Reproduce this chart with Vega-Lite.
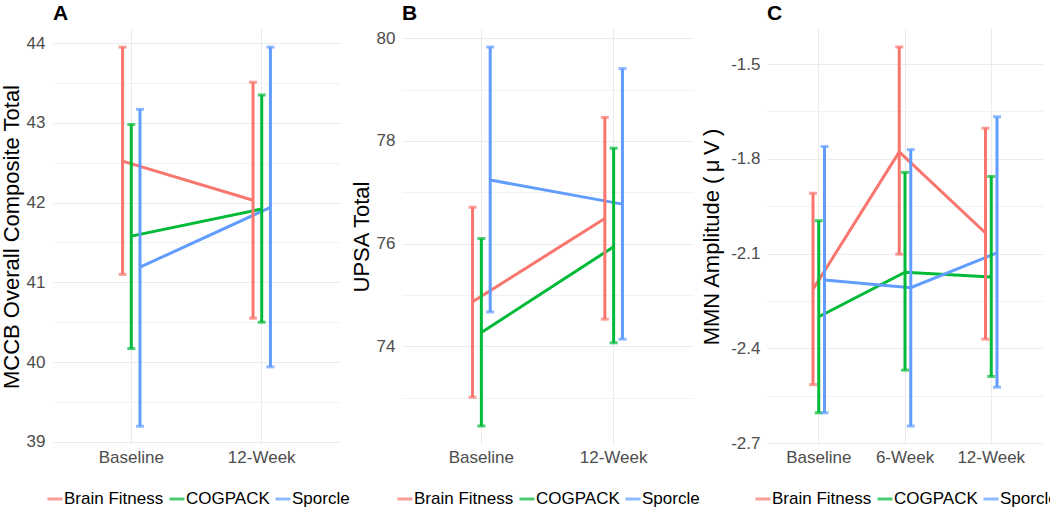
{
  "$schema": "https://vega.github.io/schema/vega-lite/v6.json",
  "padding": {"left": 0, "top": 3, "right": 0, "bottom": 0},
  "background": "white",
  "config": {
    "font": "Liberation Sans",
    "view": {"stroke": null},
    "axis": {"domain": false, "ticks": false, "tickSize": 0, "labelFontSize": 17, "labelColor": "#4D4D4D", "titleColor": "#000000", "titleFontWeight": "normal", "titleFontSize": 22, "gridColor": "#EBEBEB", "gridWidth": 1},
    "title": {"fontSize": 21, "fontWeight": "bold", "anchor": "start", "frame": "group", "offset": 4, "color": "#000000"},
    "legend": {"orient": "none", "direction": "horizontal", "columns": 3, "title": null, "symbolType": "stroke", "symbolStrokeWidth": 3, "symbolSize": 225, "labelFontSize": 17, "labelColor": "#000000", "columnPadding": -1, "labelOffset": 0, "legendY": 462}
  },
  "spacing": 0,
  "resolve": {"scale": {"x": "independent", "y": "independent", "color": "independent", "xOffset": "independent"}, "legend": {"color": "independent"}},
  "hconcat": [
    {
      "width": 287,
      "height": 417,
      "title": {"text": "A"},
      "data": {"values": [
        {"time": "Baseline", "group": "Brain Fitness", "mean": 42.52, "lo": 41.10, "hi": 43.95},
        {"time": "Baseline", "group": "COGPACK", "mean": 41.58, "lo": 40.17, "hi": 42.98},
        {"time": "Baseline", "group": "Sporcle", "mean": 41.19, "lo": 39.195, "hi": 43.17},
        {"time": "12-Week", "group": "Brain Fitness", "mean": 42.03, "lo": 40.55, "hi": 43.51},
        {"time": "12-Week", "group": "COGPACK", "mean": 41.92, "lo": 40.50, "hi": 43.35},
        {"time": "12-Week", "group": "Sporcle", "mean": 41.94, "lo": 39.94, "hi": 43.95}
      ]},
      "encoding": {
        "x": {"field": "time", "type": "nominal", "sort": ["Baseline", "12-Week"], "scale": {"type": "band", "paddingInner": 0.8, "paddingOuter": 0.5}, "axis": {"title": null, "labelAngle": 0, "bandPosition": 0.5, "grid": true, "labelPadding": 4}},
        "xOffset": {"field": "group", "type": "nominal", "scale": {"paddingInner": 0, "paddingOuter": 0}},
        "color": {"field": "group", "type": "nominal", "scale": {"domain": ["Brain Fitness", "COGPACK", "Sporcle"], "range": ["#F8766D", "#00BA38", "#619CFF"]}, "legend": {"legendX": -7}}
      },
      "layer": [
        {"mark": {"type": "line", "strokeWidth": 3}, "encoding": {"y": {"field": "mean", "type": "quantitative", "scale": {"domain": [38.96, 44.19], "nice": false, "zero": false}, "axis": {"title": "MCCB Overall Composite Total", "values": [39, 39.5, 40, 40.5, 41, 41.5, 42, 42.5, 43, 43.5, 44], "labelExpr": "datum.value % 1 === 0 ? format(datum.value, 'd') : ''", "gridColor": {"condition": {"test": "datum.value % 1 !== 0", "value": "#F2F2F2"}, "value": "#EBEBEB"}, "labelPadding": 8, "titlePadding": 3}}}},
        {"mark": {"type": "rule", "strokeWidth": 3}, "encoding": {"y": {"field": "lo", "type": "quantitative"}, "y2": {"field": "hi"}}},
        {"mark": {"type": "tick", "orient": "horizontal", "size": 8, "thickness": 3}, "encoding": {"y": {"field": "hi", "type": "quantitative"}}},
        {"mark": {"type": "tick", "orient": "horizontal", "size": 8, "thickness": 3}, "encoding": {"y": {"field": "lo", "type": "quantitative"}}}
      ]
    },
    {
      "width": 291,
      "height": 417,
      "title": {"text": "B"},
      "data": {"values": [
        {"time": "Baseline", "group": "Brain Fitness", "mean": 74.87, "lo": 73.01, "hi": 76.71},
        {"time": "Baseline", "group": "COGPACK", "mean": 74.27, "lo": 72.45, "hi": 76.10},
        {"time": "Baseline", "group": "Sporcle", "mean": 77.24, "lo": 74.67, "hi": 79.83},
        {"time": "12-Week", "group": "Brain Fitness", "mean": 76.49, "lo": 74.53, "hi": 78.46},
        {"time": "12-Week", "group": "COGPACK", "mean": 75.94, "lo": 74.07, "hi": 77.86},
        {"time": "12-Week", "group": "Sporcle", "mean": 76.77, "lo": 74.14, "hi": 79.41}
      ]},
      "encoding": {
        "x": {"field": "time", "type": "nominal", "sort": ["Baseline", "12-Week"], "scale": {"type": "band", "paddingInner": 0.8, "paddingOuter": 0.5}, "axis": {"title": null, "labelAngle": 0, "bandPosition": 0.5, "grid": true, "labelPadding": 4}},
        "xOffset": {"field": "group", "type": "nominal", "scale": {"paddingInner": 0, "paddingOuter": 0}},
        "color": {"field": "group", "type": "nominal", "scale": {"domain": ["Brain Fitness", "COGPACK", "Sporcle"], "range": ["#F8766D", "#00BA38", "#619CFF"]}, "legend": {"legendX": -6}}
      },
      "layer": [
        {"mark": {"type": "line", "strokeWidth": 3}, "encoding": {"y": {"field": "mean", "type": "quantitative", "scale": {"domain": [72.08, 80.2], "nice": false, "zero": false}, "axis": {"title": "UPSA Total", "values": [73, 74, 75, 76, 77, 78, 79, 80], "labelExpr": "datum.value % 2 === 0 ? format(datum.value, 'd') : ''", "gridColor": {"condition": {"test": "datum.value % 2 !== 0", "value": "#F2F2F2"}, "value": "#EBEBEB"}, "labelPadding": 7, "titlePadding": 3}}}},
        {"mark": {"type": "rule", "strokeWidth": 3}, "encoding": {"y": {"field": "lo", "type": "quantitative"}, "y2": {"field": "hi"}}},
        {"mark": {"type": "tick", "orient": "horizontal", "size": 8, "thickness": 3}, "encoding": {"y": {"field": "hi", "type": "quantitative"}}},
        {"mark": {"type": "tick", "orient": "horizontal", "size": 8, "thickness": 3}, "encoding": {"y": {"field": "lo", "type": "quantitative"}}}
      ]
    },
    {
      "width": 276,
      "height": 417,
      "title": {"text": "C"},
      "data": {"values": [
        {"time": "Baseline", "group": "Brain Fitness", "mean": -2.213, "lo": -2.515, "hi": -1.909},
        {"time": "Baseline", "group": "COGPACK", "mean": -2.30, "lo": -2.604, "hi": -1.996},
        {"time": "Baseline", "group": "Sporcle", "mean": -2.184, "lo": -2.604, "hi": -1.761},
        {"time": "6-Week", "group": "Brain Fitness", "mean": -1.778, "lo": -2.102, "hi": -1.446},
        {"time": "6-Week", "group": "COGPACK", "mean": -2.159, "lo": -2.469, "hi": -1.843},
        {"time": "6-Week", "group": "Sporcle", "mean": -2.208, "lo": -2.646, "hi": -1.771},
        {"time": "12-Week", "group": "Brain Fitness", "mean": -2.035, "lo": -2.371, "hi": -1.703},
        {"time": "12-Week", "group": "COGPACK", "mean": -2.174, "lo": -2.489, "hi": -1.856},
        {"time": "12-Week", "group": "Sporcle", "mean": -2.098, "lo": -2.523, "hi": -1.667}
      ]},
      "encoding": {
        "x": {"field": "time", "type": "nominal", "sort": ["Baseline", "6-Week", "12-Week"], "scale": {"type": "band", "paddingInner": 0.8, "paddingOuter": 0.5}, "axis": {"title": null, "labelAngle": 0, "bandPosition": 0.5, "grid": true, "labelPadding": 4}},
        "xOffset": {"field": "group", "type": "nominal", "scale": {"paddingInner": 0, "paddingOuter": 0}},
        "color": {"field": "group", "type": "nominal", "scale": {"domain": ["Brain Fitness", "COGPACK", "Sporcle"], "range": ["#F8766D", "#00BA38", "#619CFF"]}, "legend": {"legendX": -13}}
      },
      "layer": [
        {"mark": {"type": "line", "strokeWidth": 3}, "encoding": {"y": {"field": "mean", "type": "quantitative", "scale": {"domain": [-2.706, -1.386], "nice": false, "zero": false}, "axis": {"title": "MMN Amplitude (\u2009μ\u2009V\u2009)", "values": [-2.7, -2.55, -2.4, -2.25, -2.1, -1.95, -1.8, -1.65, -1.5], "labelExpr": "abs(round(datum.value*10)) % 3 === 0 ? replace(format(datum.value, '.1f'), '\u2212', '-') : ''", "gridColor": {"condition": {"test": "abs(round(datum.value*10)) % 3 !== 0", "value": "#F2F2F2"}, "value": "#EBEBEB"}, "labelPadding": 7, "titlePadding": 7}}}},
        {"mark": {"type": "rule", "strokeWidth": 3}, "encoding": {"y": {"field": "lo", "type": "quantitative"}, "y2": {"field": "hi"}}},
        {"mark": {"type": "tick", "orient": "horizontal", "size": 8, "thickness": 3}, "encoding": {"y": {"field": "hi", "type": "quantitative"}}},
        {"mark": {"type": "tick", "orient": "horizontal", "size": 8, "thickness": 3}, "encoding": {"y": {"field": "lo", "type": "quantitative"}}}
      ]
    }
  ]
}
